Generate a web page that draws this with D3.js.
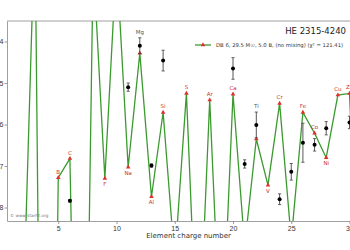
<!DOCTYPE html>
<html>
<head>
<meta charset="utf-8">
<script src="https://cdn.jsdelivr.net/npm/d3@7"></script>
<style>
  body { margin: 0; background: #fff; }
  svg { display: block; font-family: "DejaVu Sans", sans-serif; }
</style>
</head>
<body>
<div class="chart"></div>
<script>
// model (red triangles + green line), Z = 2 .. 31
var charges = [2, 3, 4, 5, 6, 7, 8, 9, 10, 11, 12, 13, 14, 15, 16, 17, 18, 19, 20, 21, 22, 23, 24, 25, 26, 27, 28, 29, 30, 31];
var symbols = ["He", "Li", "Be", "B", "C", "N", "O", "F", "Ne", "Na", "Mg", "Al", "Si", "P", "S", "Cl", "Ar", "K", "Ca", "Sc", "Ti", "V", "Cr", "Mn", "Fe", "Co", "Ni", "Cu", "Zn", "Ga"];
var modelValues = [-10.49, -1.10, -29.05, -7.28, -6.82, -20.76, -2.06, -7.30, -2.04, -7.03, -4.28, -7.74, -5.71, -9.29, -5.25, -11.99, -5.41, -11.78, -5.27, -8.93, -6.35, -7.46, -5.49, -8.78, -5.71, -6.21, -6.80, -5.29, -5.25, -12.0];

// observed abundances (black points)
var obsCharges = [6, 11, 12, 13, 14, 20, 21, 22, 24, 25, 26, 27, 28, 30];
var obsValues = [-7.84, -5.10, -4.10, -6.99, -4.46, -4.65, -6.95, -6.01, -7.80, -7.14, -6.44, -6.49, -6.09, -5.95];
var obsErrors = [0.03, 0.10, 0.19, 0.04, 0.25, 0.26, 0.10, 0.31, 0.13, 0.20, 0.47, 0.15, 0.16, 0.15];

var xTicks = [5, 10, 15, 20, 25, 30];
var yTicks = [-4, -5, -6, -7, -8];

var titleText = "HE 2315-4240";
var legendText = "DB 6, 29.5 M\u2609, 5.0 B, (no mixing) (\u03c7\u00b2 = 121.41)";

var width = 350, height = 250;
var plot = { left: 7, top: 21, right: 356.5, bottom: 221 };

var svg = d3.select('.chart')
	.append('svg')
	.attr('width', width)
	.attr('height', height);

var x = d3.scaleLinear()
	.domain([0.6, 30.6])
	.range([plot.left, plot.right]);

var y = d3.scaleLinear()
	.domain([-8.325, -3.506])
	.range([plot.bottom, plot.top]);

svg.append('clipPath')
	.attr('id', 'plotClip')
	.append('rect')
	.attr('x', plot.left)
	.attr('y', plot.top)
	.attr('width', plot.right - plot.left)
	.attr('height', plot.bottom - plot.top);

//axes
var xAxis = d3.axisBottom(x)
	.tickValues(xTicks)
	.tickSizeInner(3)
	.tickSizeOuter(0)
	.tickPadding(2);

var yAxis = d3.axisLeft(y)
	.tickValues(yTicks)
	.tickSizeInner(2.5)
	.tickSizeOuter(0)
	.tickPadding(1)
	.tickFormat(function (d) { return d3.format('d')(d).replace('-', '\u2212'); });

var gx = svg.append('g')
	.attr('transform', 'translate(0,' + plot.bottom + ')')
	.call(xAxis);

var gy = svg.append('g')
	.attr('transform', 'translate(' + plot.left + ',0)')
	.call(yAxis);

[gx, gy].forEach(function (g) {
	g.select('.domain').attr('stroke', '#a0a0a0').attr('stroke-width', 1);
	g.selectAll('.tick line').attr('stroke', '#808080').attr('stroke-width', 0.8);
	g.selectAll('.tick text').attr('fill', '#333').style('font-size', '7px');
});

// top spine
svg.append('line')
	.attr('x1', plot.left)
	.attr('x2', plot.right)
	.attr('y1', plot.top)
	.attr('y2', plot.top)
	.attr('stroke', '#a0a0a0')
	.attr('stroke-width', 1);

svg.append('text')
	.attr('x', (x(1) + x(30)) / 2 + 8)
	.attr('y', 238)
	.attr('text-anchor', 'middle')
	.attr('fill', '#333')
	.style('font-size', '7px')
	.text('Element charge number');

// watermark
svg.append('text')
	.attr('x', 10)
	.attr('y', 216.5)
	.attr('fill', '#777')
	.style('font-size', '4.2px')
	.text('\u00a9 www.StarFit.org');

var model = charges.map(function (z, i) {
	return { z: z, sym: symbols[i], v: modelValues[i] };
});

var obs = obsCharges.map(function (z, i) {
	return { z: z, v: obsValues[i], e: obsErrors[i] };
});

var inner = svg.append('g').attr('clip-path', 'url(#plotClip)');

var line = d3.line()
	.x(function (d) { return x(d.z); })
	.y(function (d) { return y(d.v); });

inner.append('path')
	.datum(model)
	.attr('d', line)
	.attr('fill', 'none')
	.attr('stroke', '#3a9a2e')
	.attr('stroke-width', 1.3);

var tri = d3.symbol().type(d3.symbolTriangle).size(9);

inner.selectAll('.model')
	.data(model)
	.enter().append('path')
	.attr('class', 'model')
	.attr('d', tri)
	.attr('transform', function (d) { return 'translate(' + x(d.z) + ',' + y(d.v) + ')'; })
	.attr('fill', '#e0302a');

// observations with error bars
var og = inner.selectAll('.obs')
	.data(obs)
	.enter().append('g')
	.attr('class', 'obs');

og.append('line')
	.attr('x1', function (d) { return x(d.z); })
	.attr('x2', function (d) { return x(d.z); })
	.attr('y1', function (d) { return y(d.v + d.e); })
	.attr('y2', function (d) { return y(d.v - d.e); })
	.attr('stroke', '#444')
	.attr('stroke-width', 0.9);

[1, -1].forEach(function (s) {
	og.append('line')
		.attr('x1', function (d) { return x(d.z) - 1.6; })
		.attr('x2', function (d) { return x(d.z) + 1.6; })
		.attr('y1', function (d) { return y(d.v + s * d.e); })
		.attr('y2', function (d) { return y(d.v + s * d.e); })
		.attr('stroke', '#444')
		.attr('stroke-width', 0.8);
});

og.append('circle')
	.attr('cx', function (d) { return x(d.z); })
	.attr('cy', function (d) { return y(d.v); })
	.attr('r', 2)
	.attr('fill', '#000');

// element labels
var obsByZ = {};
obs.forEach(function (o) { obsByZ[o.z] = o; });

inner.selectAll('.lab')
	.data(model.filter(function (d, i) { return i > 0 && i < model.length - 1; }))
	.enter().append('text')
	.attr('class', 'lab')
	.attr('text-anchor', 'middle')
	.style('font-size', '5.5px')
	.each(function (d) {
		var i = charges.indexOf(d.z);
		var below = d.v < model[i - 1].v && d.v < model[i + 1].v;
		var o = obsByZ[d.z];
		var ly, col = '#c8322c';
		if (below) {
			ly = y(d.v) + 7.5;
		} else {
			ly = y(d.v) - 4;
			if (o && Math.abs(o.v - d.v) < 0.5 && o.v + o.e > d.v) {
				ly = y(o.v + o.e) - 4;
				col = '#555';
			}
		}
		d3.select(this)
			.attr('x', x(d.z))
			.attr('y', ly)
			.attr('fill', col)
			.text(d.sym);
	});

// title and legend
svg.append('text')
	.attr('x', 346)
	.attr('y', 34)
	.attr('text-anchor', 'end')
	.attr('fill', '#222')
	.style('font-size', '8.5px')
	.text(titleText);

var leg = svg.append('g').attr('transform', 'translate(195,45)');

leg.append('line')
	.attr('x1', 0)
	.attr('x2', 16)
	.attr('stroke', '#3a9a2e')
	.attr('stroke-width', 1.3);

leg.append('path')
	.attr('d', tri)
	.attr('transform', 'translate(8,0)')
	.attr('fill', '#e0302a');

leg.append('text')
	.attr('x', 21)
	.attr('y', 2)
	.attr('fill', '#333')
	.style('font-size', '5.3px')
	.text(legendText);
</script>
</body>
</html>
